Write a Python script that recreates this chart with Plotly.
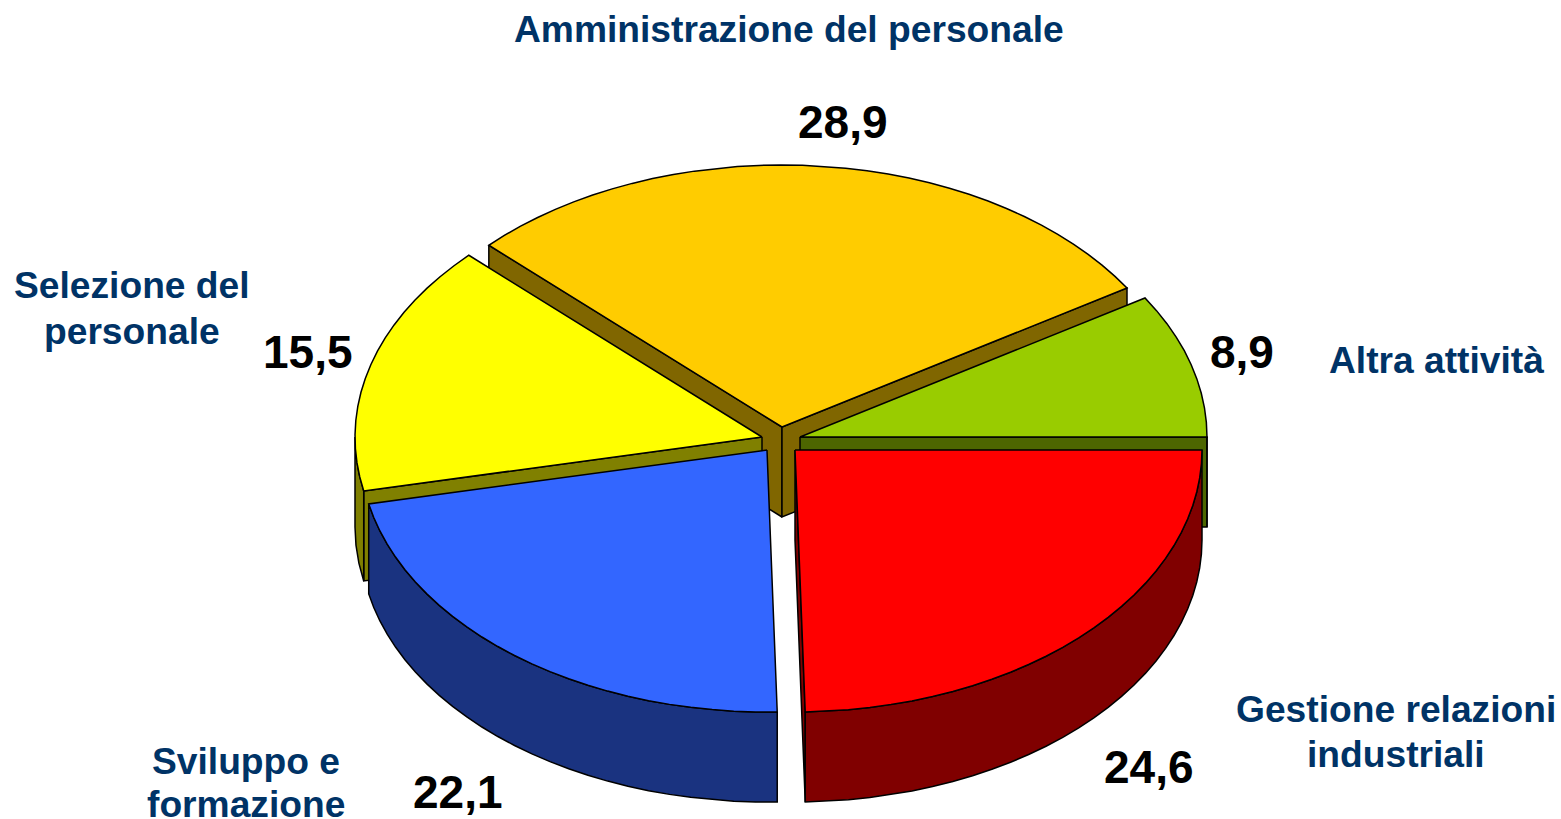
import math
import plotly.graph_objects as go

name_lines = ["Amministrazione del personale", "Altra attività", "Gestione relazioni", "industriali",
              "Sviluppo e", "formazione", "Selezione del", "personale"]
values = [28.9, 8.9, 24.6, 22.1, 15.5]
value_labels = ["28,9", "8,9", "24,6", "22,1", "15,5"]
top_colors = ["#FFCC00", "#99CC00", "#FF0000", "#3366FF", "#FFFF00"]
side_colors = ["#806600", "#4D6600", "#800000", "#1A3380", "#808000"]
centers = [(782, 427), (800, 437), (795, 450), (767, 450), (762, 437)]
name_pos = [(789, 29), (1436, 360), (1396, 709), (1396, 754), (246, 761), (246, 804), (132, 285), (132, 331)]
value_pos = [(843, 122), (1242, 352), (1149, 767), (458, 792), (308, 352)]

RX, RY, DEPTH = 407, 262, 90
STEP = 3.0
START = 90 - 360 * sum(values[:2]) / sum(values)  # 2nd slice ends at 3 o'clock


def pt(c, a, dz=0):
    r = math.radians(a)
    return c[0] + RX * math.sin(r), c[1] - RY * math.cos(r) + dz


def arc(c, a0, a1, dz=0):
    n = max(2, int(abs(a1 - a0) / STEP))
    return [pt(c, a0 + (a1 - a0) * i / n, dz) for i in range(n + 1)]


def face_visible(c, edge, inner):
    # the cut face shows when the slice's interior lies above the edge on screen
    p, q = pt(c, edge), pt(c, inner)
    cross = (p[0] - c[0]) * (q[1] - c[1]) - (p[1] - c[1]) * (q[0] - c[0])
    return cross * (p[0] - c[0]) < 0


fig = go.Figure()


def poly(points, fill):
    xs = [p[0] for p in points] + [points[0][0]]
    ys = [p[1] for p in points] + [points[0][1]]
    fig.add_trace(go.Scatter(x=xs, y=ys, mode="lines", fill="toself", fillcolor=fill,
                             line=dict(color="#000000", width=1.5), hoverinfo="skip", showlegend=False))


angles = []
a = START
for v in values:
    b = a + 360 * v / sum(values)
    angles.append((a, b))
    a = b

for i in [0, 1, 4, 3, 2]:  # back to front
    c = centers[i]
    a0, a1 = angles[i]
    side = side_colors[i]
    for e, inner in ((a0, a0 + 5), (a1, a1 - 5)):
        if face_visible(c, e, inner):
            p = pt(c, e)
            poly([c, p, (p[0], p[1] + DEPTH), (c[0], c[1] + DEPTH)], side)
    lo, hi = max(a0, 90), min(a1, 270)
    if hi > lo:
        poly(arc(c, lo, hi) + arc(c, hi, lo, DEPTH), side)
    poly([c] + arc(c, a0, a1), top_colors[i])

for text, (x, y) in zip(name_lines, name_pos):
    fig.add_annotation(x=x, y=y, text=text, showarrow=False,
                       font=dict(family="Liberation Sans", size=37.2, color="#003366", weight="bold"))
for text, (x, y) in zip(value_labels, value_pos):
    fig.add_annotation(x=x, y=y, text=text, showarrow=False,
                       font=dict(family="Liberation Sans", size=46, color="#000000", weight="bold"))

fig.update_xaxes(visible=False, range=[0, 1561], fixedrange=True)
fig.update_yaxes(visible=False, range=[819, 0], fixedrange=True)
fig.update_layout(width=1561, height=819, margin=dict(l=0, r=0, t=0, b=0),
                  paper_bgcolor="#FFFFFF", plot_bgcolor="#FFFFFF", showlegend=False)
fig.write_html("out.html", config={"displayModeBar": False},
               post_script="document.body.style.margin='0';document.body.style.overflow='hidden';")
